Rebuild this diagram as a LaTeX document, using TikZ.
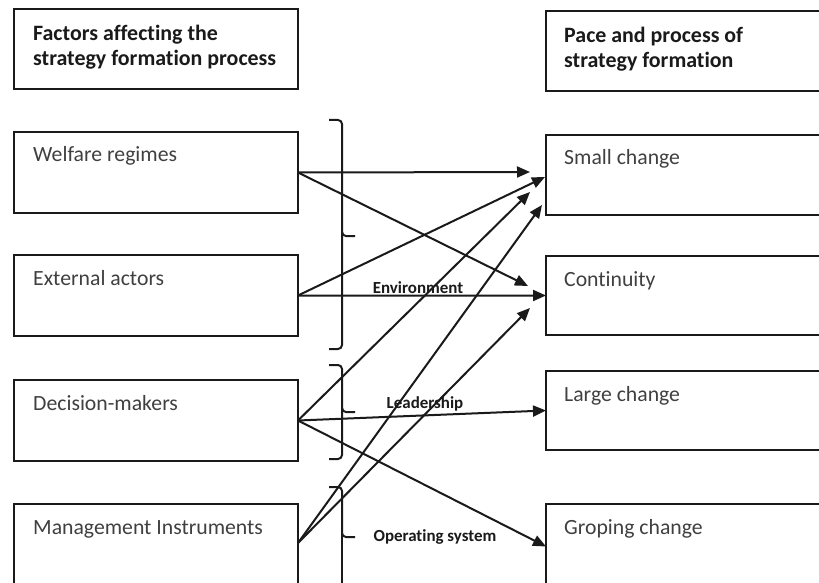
\documentclass[tikz,border=0pt]{standalone}
\usepackage{fontspec}
\setmainfont[Ligatures=NoCommon]{Carlito}
\usetikzlibrary{arrows.meta,calc}
\definecolor{txt}{HTML}{404040}
\definecolor{ln}{HTML}{1A1A1A}
\begin{document}
\begin{tikzpicture}[x=1bp,y=-1bp,
 box/.style={draw=ln,line width=2.2bp,minimum width=284bp,inner sep=0,anchor=north west,outer sep=0},
 rbox/.style={box,minimum width=310bp},
 boxtext/.style={anchor=base west,inner sep=0,text=txt,font=\fontsize{21.8}{26}\selectfont},
 headtext/.style={anchor=north west,inner sep=0,align=left,text=ln,font=\bfseries\fontsize{22}{26}\selectfont},
 lab/.style={inner sep=0,font=\bfseries\fontsize{17}{20}\selectfont,text=ln},
 arr/.style={draw=ln,line width=2bp,-{Triangle[length=13bp,width=11bp]}},
 brc/.style={draw=ln,line width=2bp,rounded corners=4bp}]
\path[use as bounding box,clip] (0,0) rectangle (819,583);
\fill[white] (0,0) rectangle (819,583);
% left boxes
\node[box,minimum height=80bp] (lh) at (14,9) {};
\node[box,minimum height=81bp] (wr) at (14,132) {};
\node[box,minimum height=81bp] (ea) at (14,255) {};
\node[box,minimum height=81bp] (dm) at (14,380) {};
\node[box,minimum height=95bp] (mi) at (14,504) {};
% right boxes
\node[rbox,minimum height=80bp] (rh) at (546,11) {};
\node[rbox,minimum height=80bp] (sc) at (546,135) {};
\node[rbox,minimum height=79bp] (co) at (546,256) {};
\node[rbox,minimum height=79bp] (lc) at (546,371) {};
\node[rbox,minimum height=95bp] (gc) at (546,504) {};
% texts
\node[headtext] (lht) at ($(lh.north west)+(19,15.5)$) {Factors affecting the\\strategy formation process};
\node[headtext] (rht) at ($(rh.north west)+(18,15.5)$) {Pace and process of\\strategy formation};
\node[boxtext] (wrt) at ($(wr.north west)+(19,30)$) {Welfare regimes};
\node[boxtext] (eat) at ($(ea.north west)+(19,30)$) {External actors};
\node[boxtext] (dmt) at ($(dm.north west)+(19,30)$) {Decision-makers};
\node[boxtext] (mit) at ($(mi.north west)+(19,30)$) {Management Instruments};
\node[boxtext] (sct) at ($(sc.north west)+(18,30)$) {Small change};
\node[boxtext] (cot) at ($(co.north west)+(18,30)$) {Continuity};
\node[boxtext] (lct) at ($(lc.north west)+(18,30)$) {Large change};
\node[boxtext] (gct) at ($(gc.north west)+(18,30)$) {Groping change};
% braces
\draw[brc] (329,120) -- (342,120) -- (342,236) -- (355,236);
\draw[brc] (342,232) -- (342,349) -- (329,349);
\draw[brc] (329,365) -- (342,365) -- (342,412) -- (355,412);
\draw[brc] (342,408) -- (342,459) -- (329,459);
\draw[brc] (329,487) -- (342,487) -- (342,537) -- (355,537);
\draw[brc] (342,533) -- (342,590);
% labels
\node[lab] (env) at (418,288) {Environment};
\node[lab] (lead) at (425,404) {Leadership};
\node[lab] (ops) at (435,537) {Operating system};
% arrows
\draw[arr] (wr.east) -- ($(sc.west)+(-16,-3)$);
\draw[arr] (wr.east) -- ($(co.west)+(-18,-9.5)$);
\draw[arr] (ea.east) -- ($(sc.west)+(-1,2)$);
\draw[arr] (ea.east) -- (co.west);
\draw[arr] (dm.east) -- ($(sc.west)+(-16,17)$);
\draw[arr] (dm.east) -- (lc.west);
\draw[arr] (dm.east) -- ($(gc.west)+(0,-5)$);
\draw[arr] ($(mi.north east)+(0,39)$) -- ($(sc.west)+(-4,30)$);
\draw[arr] ($(mi.north east)+(0,39)$) -- ($(co.west)+(-16,12.5)$);
\end{tikzpicture}
\end{document}
